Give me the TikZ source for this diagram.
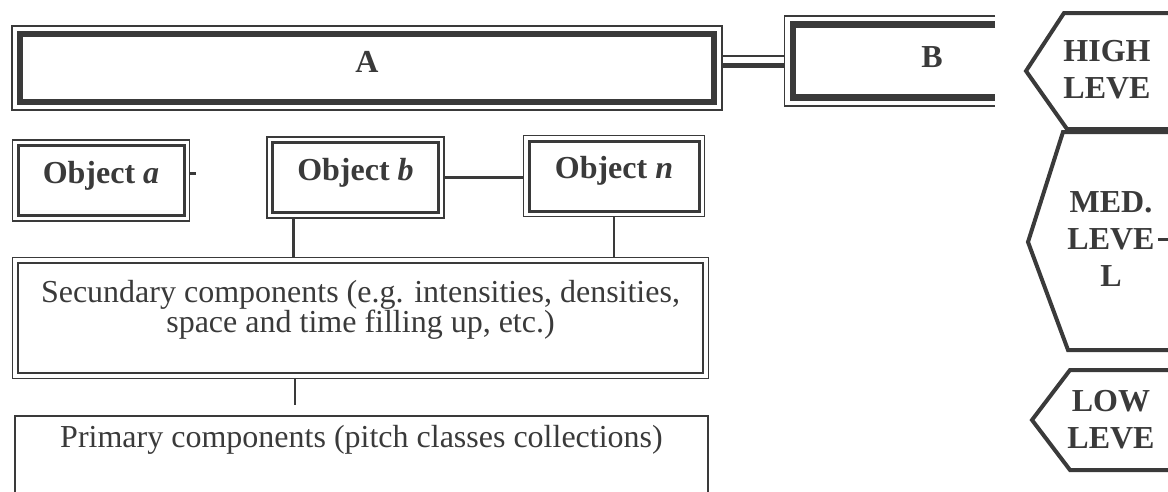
\documentclass[tikz,border=0pt]{standalone}
\usepackage{fontspec}
\setmainfont{Liberation Serif}
\usetikzlibrary{positioning,fit}
\definecolor{ink}{RGB}{58,58,58}

\begin{document}
\begin{tikzpicture}[
      x=1pt, y=-1pt,
      every node/.style={font=\fontsize{32}{30}\selectfont, text=ink, outer sep=0pt},
      bigbox/.style={draw=ink, line width=6.5pt, inner sep=0pt, font=\bfseries\fontsize{32}{30}\selectfont},
      objbox/.style={draw=ink, line width=3pt, inner sep=0pt, minimum width=166pt, minimum height=70pt, text depth=17pt, font=\bfseries\fontsize{32}{30}\selectfont},
      compbox/.style={draw=ink, line width=2.2pt, inner sep=0pt, align=center},
      rim/.style={draw=ink, line width=1.8pt, inner sep=#1},
      rim/.default=5.5pt,
      link/.style={draw=ink, line width=2.2pt},
      level/.style={draw=ink, line width=4pt},
      leveltext/.style={align=center, font=\bfseries\fontsize{32}{37}\selectfont}
  ]
    \useasboundingbox (0,0) rectangle (1168,491);
    \clip (0,0) rectangle (1168,491);

    % top row
    \node[bigbox, minimum width=694pt, minimum height=68pt, text depth=12pt] (A) at (367,68) {A};
    \node[rim=8pt, fit=(A)] (Arim) {};
    \node[minimum width=404pt, minimum height=73pt, inner sep=0pt] (Bbox) at (995,61) {};
    \node[inner sep=8.5pt, fit=(Bbox)] (Brim) {};
    \node (B) at (932,57) {\bfseries B};
    \draw[ink, line width=6.5pt] (Bbox.north) -| (Bbox.west) |- (Bbox.south);
    \draw[ink, line width=1.8pt] (Brim.north) -| (Brim.west) |- (Brim.south);
    \draw[link, line width=1.8pt] ([yshift=12pt]Arim.east) -- ([yshift=12pt]Arim.east -| Brim.west);
    \draw[link, line width=5pt] ([yshift=3pt]Arim.east) -- ([yshift=3pt]Arim.east -| Brim.west);

    % objects
    \node[objbox] (obja) at (101,180.5) {Object \textit{a}};
    \node[rim, fit=(obja)] (objarim) {};
    \node[objbox] (objb) at (355.5,177.5) {Object \textit{b}};
    \node[rim, fit=(objb)] (objbrim) {};
    \node[objbox, minimum width=170pt] (objn) at (614,176) {Object \textit{n}};
    \node[rim, fit=(objn)] (objnrim) {};

    % components
    \node[compbox, minimum width=685pt, minimum height=110pt, text depth=24pt] (sec) at (360.5,318)
      {Secundary components (e.g. intensities, densities,\\space and time filling up, etc.)};
    \node[rim, fit=(sec)] (secrim) {};
    \node[compbox, line width=2pt, minimum width=693pt, minimum height=110pt, text depth=70pt] (prim) at (361.5,471)
      {Primary components (pitch classes collections)};
    \coordinate (gap) at ([yshift=11pt]prim.north);

    \draw[link] ([yshift=7pt]objarim.east) -- ++(6,0);
    \draw[link, line width=3.5pt] (objbrim.east) -- (objbrim.east -| objnrim.west);
    \draw[link] ([xshift=-62pt]objbrim.south) -- ([xshift=-62pt]objbrim.south |- secrim.north);
    \draw[link] (objnrim.south) -- (objnrim.south |- secrim.north);
    \draw[link] ([xshift=-65.5pt]secrim.south) -- ([xshift=-65.5pt]secrim.south |- gap);

    % levels
    \node[leveltext] (high) at (1107,69.5) {HIGH\\LEVE};
    \node[leveltext] (med) at (1111,239.5) {MED.\\LEVE\\L};
    \node[leveltext] (low) at (1111,420) {LOW\\LEVE};
    \draw[level] (1190,13) -- (1064,13) -- (1026,71) -- (1067,129) -- (1190,129);
    \draw[level] (1190,132) -- (1063,132) -- (1028,242) -- (1068,350) -- (1190,350);
    \draw[level] (1190,370) -- (1070,370) -- (1032,420) -- (1070,470) -- (1190,470);
    \draw[link] (med.east) -- ++(10,0);
  \end{tikzpicture}
\end{document}
